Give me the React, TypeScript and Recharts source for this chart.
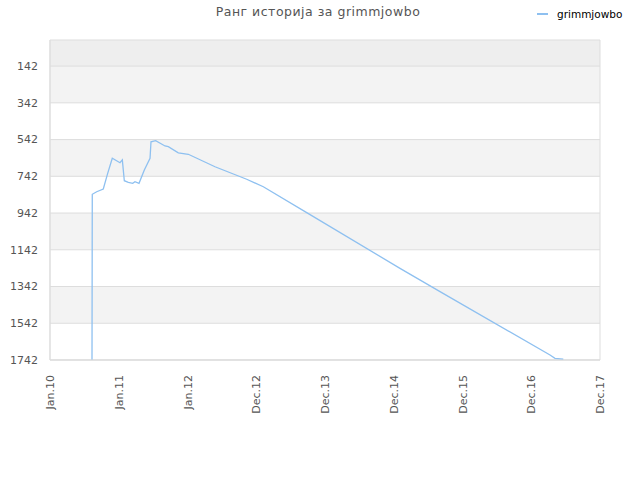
import React from "react";
import { LineChart, Line, XAxis, YAxis, ReferenceArea, ReferenceLine } from "recharts";

const xTickLabels = ["Jan.10", "Jan.11", "Jan.12", "Dec.12", "Dec.13", "Dec.14", "Dec.15", "Dec.16", "Dec.17"];
const xTickPositions = [0, 1, 2, 3, 4, 5, 6, 7, 8];
const yTicks = [142, 342, 542, 742, 942, 1142, 1342, 1542, 1742];
const bandEdges = [0, 142, 342, 542, 742, 942, 1142, 1342, 1542, 1742];

// time in years since Jan.10
const times = [0.611, 0.615, 0.679, 0.775, 0.839, 0.906, 1.018, 1.052, 1.081, 1.139, 1.203, 1.236, 1.295, 1.372, 1.455, 1.469, 1.537, 1.673, 1.721, 1.866, 2.012, 2.4, 2.861, 3.103, 3.734, 5.091, 5.673, 7.273, 7.345, 7.466];
const ranks = [1742, 840, 826, 811, 726, 644, 668, 653, 766, 775, 780, 771, 780, 708, 644, 554, 548, 577, 581, 614, 622, 690, 758, 799, 940, 1243, 1370, 1715, 1733, 1738];

const data = times.map((t, i) => ({ t, rank: ranks[i] }));

const XTick = (props: any) => {
  const { x, y, payload } = props;
  const label = xTickLabels[xTickPositions.indexOf(payload.value)];
  return (
    <text
      x={0}
      y={0}
      transform={`translate(${x + 4},${y + 7}) rotate(-90)`}
      textAnchor="end"
      fontSize={11}
      fill="#555"
      fontFamily="DejaVu Sans"
    >
      {label}
    </text>
  );
};

export default function App() {
  return (
    <div style={{ position: "absolute", left: 0, top: 0, width: 640, height: 480, background: "#fff", fontFamily: "DejaVu Sans" }}>
      <div style={{ position: "absolute", left: 0, width: 636, top: 4, textAlign: "center", fontSize: 12.5, color: "#555", letterSpacing: 0.5 }}>
        Ранг историја за grimmjowbo
      </div>
      <div style={{ position: "absolute", left: 537, top: 8, fontSize: 10.5, color: "#000", display: "flex", alignItems: "center" }}>
        <span style={{ display: "inline-block", width: 11, height: 2, background: "#8ec0f0", marginRight: 9 }} />
        grimmjowbo
      </div>
      <LineChart width={640} height={480} data={data} margin={{ top: 40, right: 40, left: 0, bottom: 0 }}>
        {bandEdges.slice(0, -1).map((y1, i) => (
          <ReferenceArea
            key={i}
            y1={y1}
            y2={bandEdges[i + 1]}
            x1={0}
            x2={8}
            fill={i === 0 ? "#eeeeee" : i % 2 === 1 ? "#f3f3f3" : "#ffffff"}
            fillOpacity={1}
            stroke="none"
          />
        ))}
        {yTicks.map((v) => (
          <ReferenceLine key={"l" + v} y={v} stroke="#dddddd" strokeWidth={1} />
        ))}
        <ReferenceArea x1={0} x2={8} y1={0} y2={1742} fill="none" stroke="#dddddd" strokeWidth={1} />
        <XAxis
          dataKey="t"
          type="number"
          domain={[0, 8]}
          ticks={xTickPositions}
          interval={0}
          height={120}
          tickLine={false}
          axisLine={{ stroke: "#dddddd" }}
          tick={<XTick />}
        />
        <YAxis
          type="number"
          reversed
          domain={[0, 1742]}
          ticks={yTicks}
          interval={0}
          width={50}
          tickLine={false}
          axisLine={{ stroke: "#dddddd" }}
          tick={{ fontSize: 11, fill: "#555", fontFamily: "DejaVu Sans" }}
          tickMargin={6}
        />
        <Line
          type="linear"
          dataKey="rank"
          stroke="#8ec0f0"
          strokeWidth={1.3}
          dot={false}
          isAnimationActive={false}
        />
      </LineChart>
    </div>
  );
}
